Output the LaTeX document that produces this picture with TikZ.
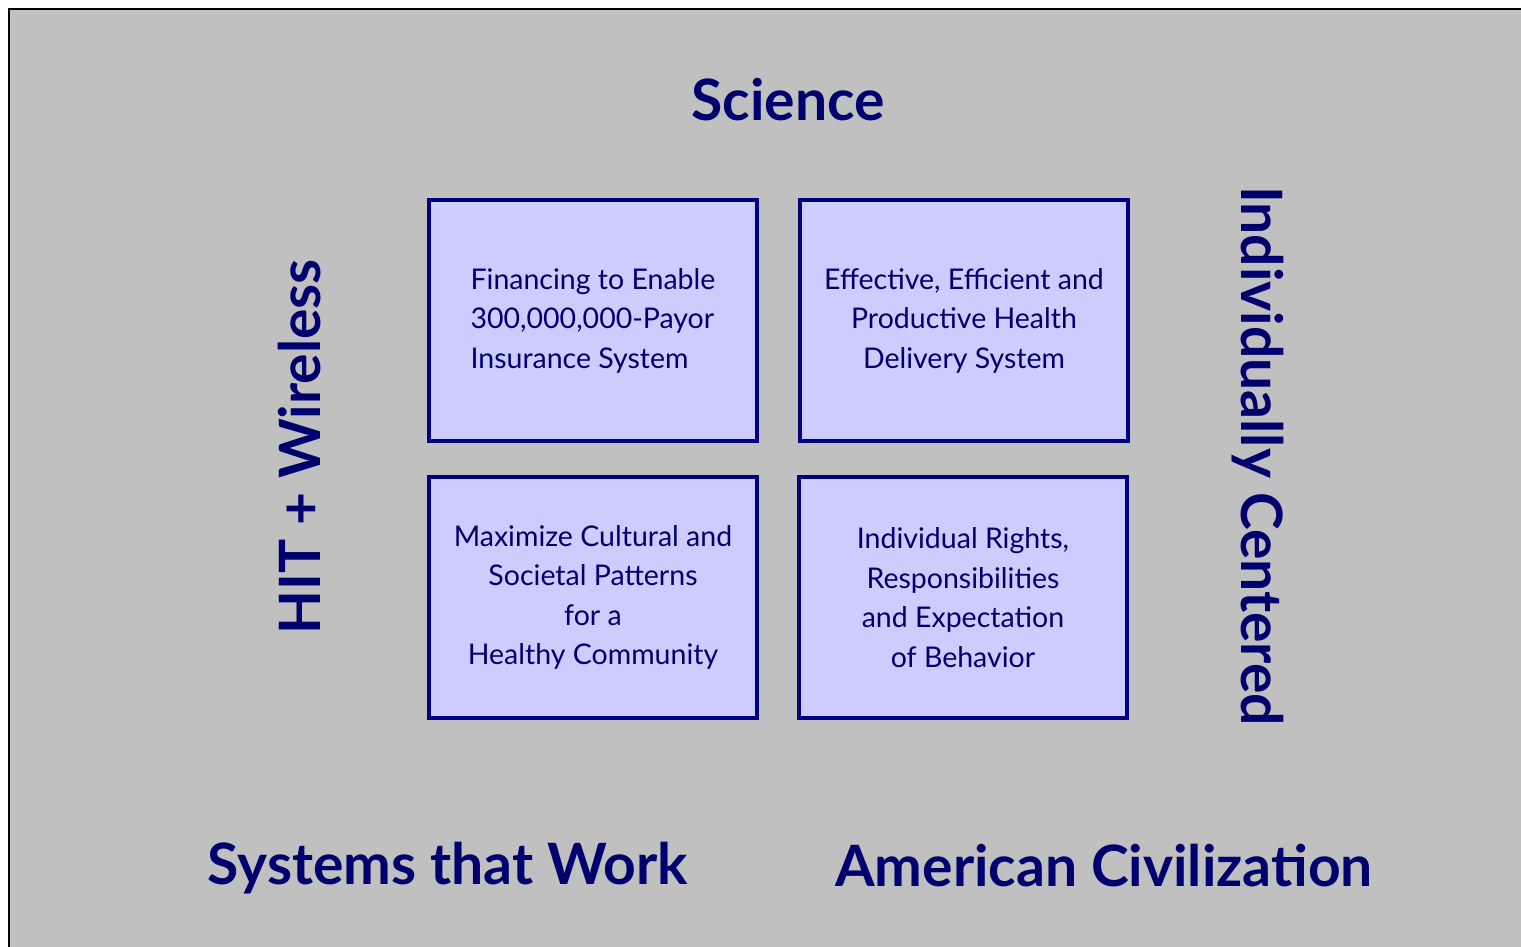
\documentclass[tikz,border=0pt]{standalone}
\usepackage{fontspec}
\setmainfont{Lato}
\usepackage{tikz}

\definecolor{panelgray}{RGB}{192,192,192}
\definecolor{boxfill}{RGB}{204,204,255}
\definecolor{boxline}{RGB}{0,0,128}
\definecolor{inktext}{RGB}{0,0,110}

\tikzset{
	quad/.style={draw=boxline, line width=4.5pt, fill=boxfill, minimum width=328pt, minimum height=241pt, inner sep=0pt},
	quadtext/.style={text=inktext, font=\fontsize{28.5}{39.5}\selectfont},
	pillar/.style={text=inktext, font=\fontsize{57}{62}\bfseries\selectfont}
}

\begin{document}
\begin{tikzpicture}[x=1pt, y=1pt]
	%\draw[help lines] (0,0) grid[step=100] (1521,947);
	\useasboundingbox (0,0) rectangle (1521,947);
	\clip (0,0) rectangle (1521,947);
	\filldraw[fill=panelgray, draw=black, line width=2pt] (9,938) rectangle (1540,-20);
	% the four quadrants
	\node[quad] (fin) at (593,626.5) {};
	\node[quad] (deliv) at (964,626.5) {};
	\node[quad] (comm) at (593,349.5) {};
	\node[quad] (rights) at (963,349.5) {};
	\node[quadtext, align=left] (fintext) at (fin) {Financing to Enable\\300,000,000-Payor\\Insurance System};
	\node[quadtext, align=center] (delivtext) at (deliv) {Effective, Efficient and\\Productive Health\\Delivery System};
	\node[quadtext, align=center] (commtext) at (comm) {Maximize Cultural and\\Societal Patterns\\for a\\Healthy Community};
	\node[quadtext, align=center] (rightstext) at (rights) {Individual Rights,\\Responsibilities\\and Expectation\\of Behavior};
	% the surrounding pillars
	\node[pillar] (science) at (788,847) {Science};
	\node[pillar, rotate=90] (hit) at (300,500) {HIT + Wireless};
	\node[pillar, rotate=-90] (indiv) at (1258,491) {Individually Centered};
	\node[pillar] (systems) at (448,79) {Systems that Work};
	\node[pillar] (civil) at (1104,81) {American Civilization};
\end{tikzpicture}
\end{document}
